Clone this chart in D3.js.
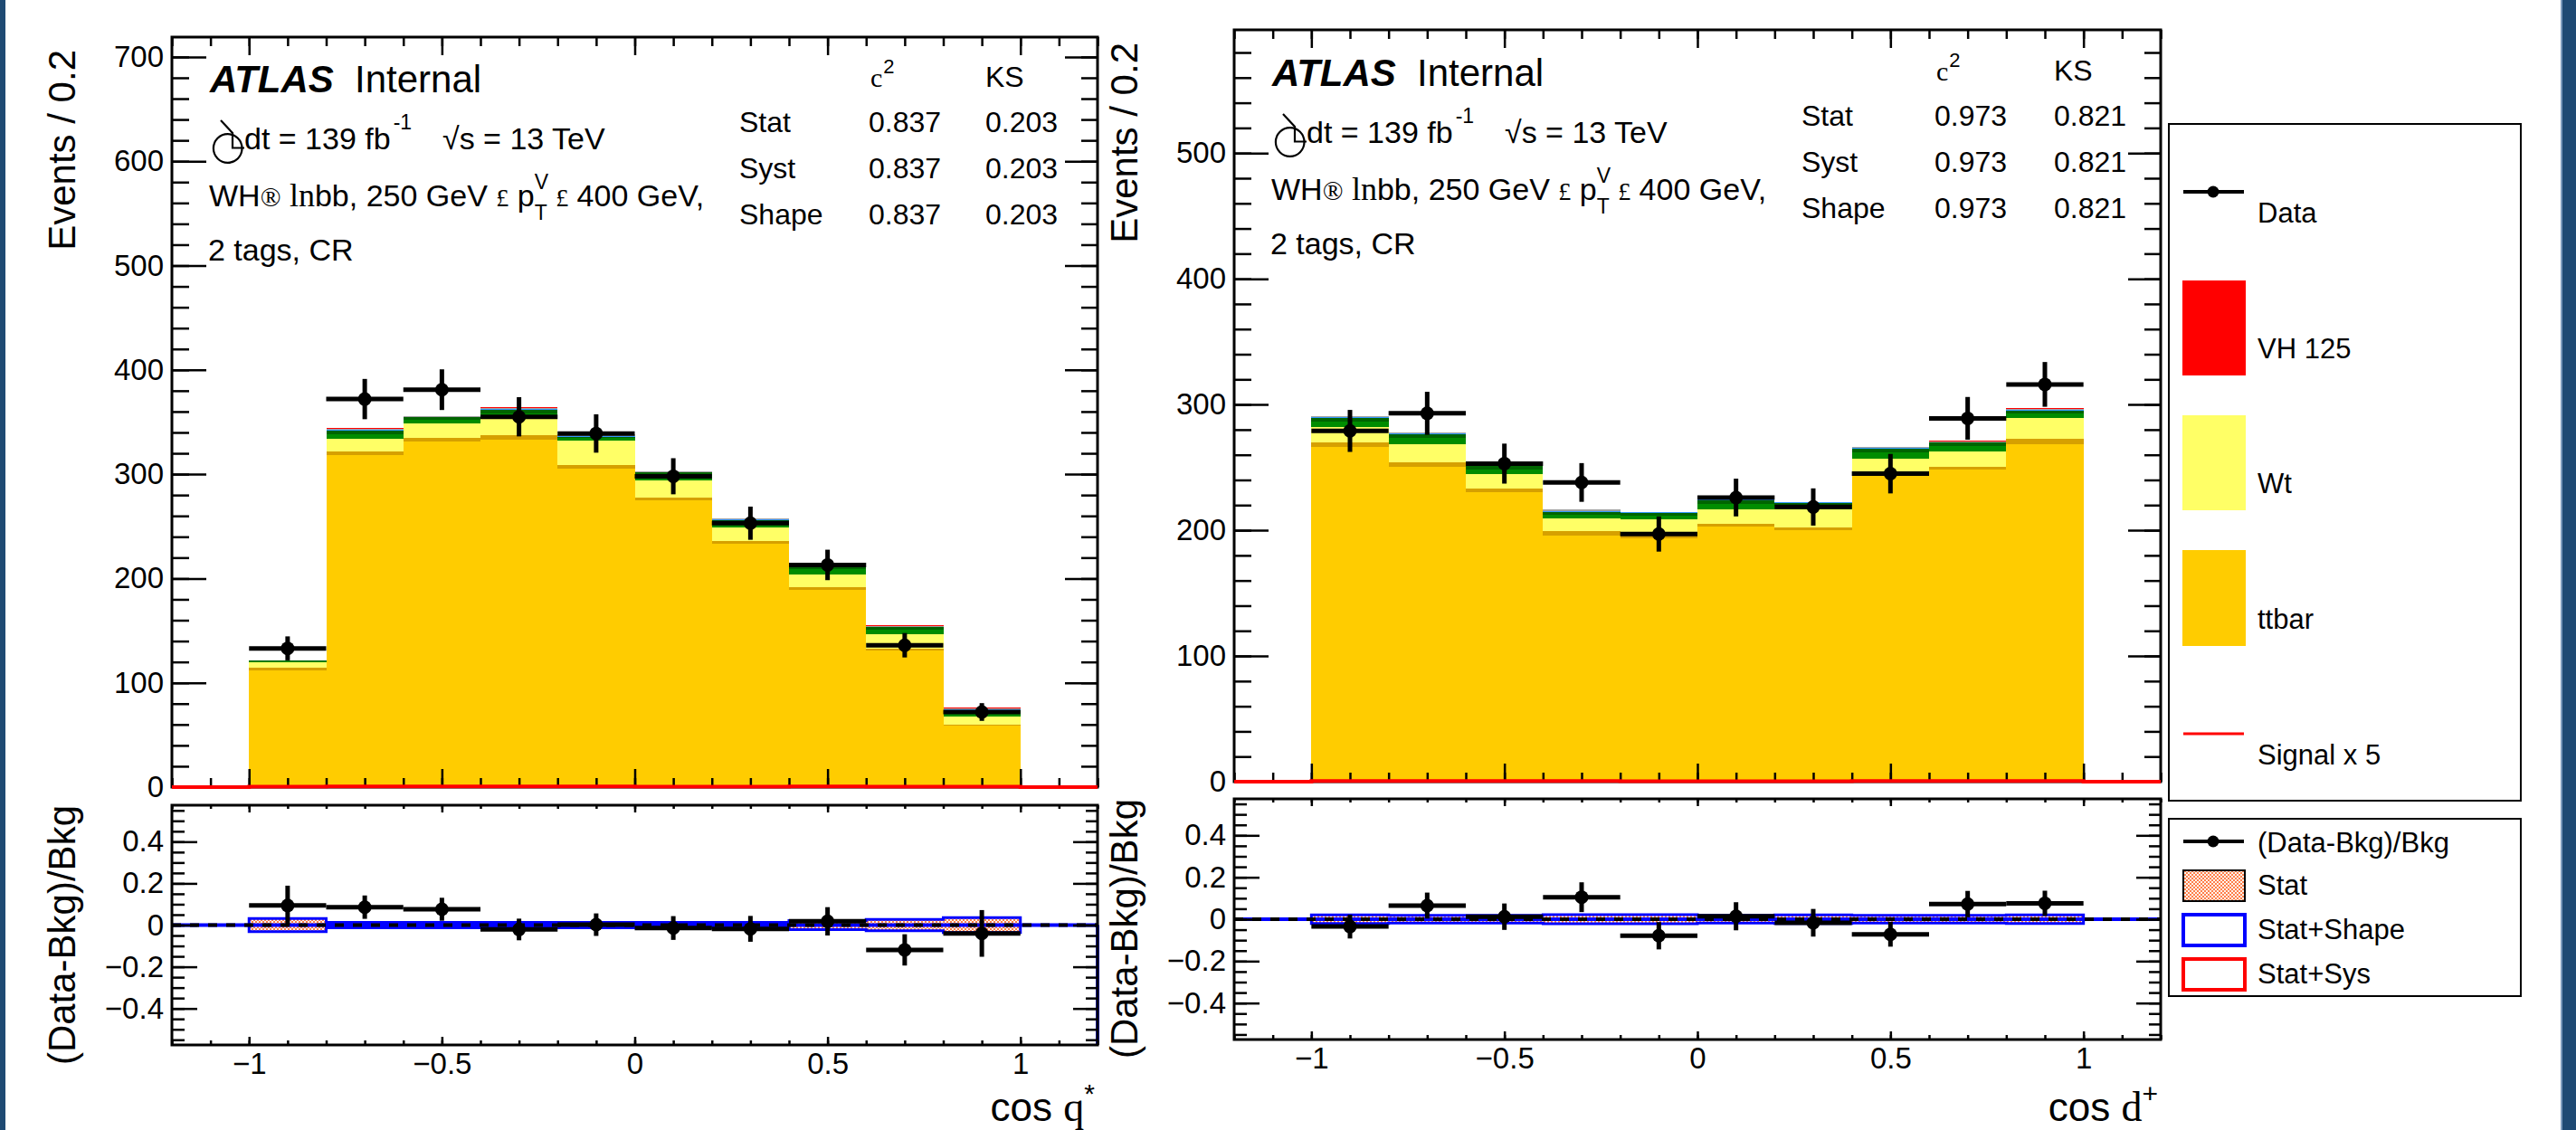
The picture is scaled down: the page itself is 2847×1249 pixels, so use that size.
<!DOCTYPE html>
<html><head><meta charset="utf-8">
<script src="https://cdnjs.cloudflare.com/ajax/libs/d3/7.8.5/d3.min.js"></script>
<style>
body{margin:0;background:#fff}
svg{display:block}
</style>
</head><body>
<svg id="c" width="2847" height="1249"></svg>
<script>
// ---------------- DATA ----------------
const binEdges   = [-1.0,-0.8,-0.6,-0.4,-0.2,0.0,0.2,0.4,0.6,0.8,1.0];
const binCenters = [-0.9,-0.7,-0.5,-0.3,-0.1,0.1,0.3,0.5,0.7,0.9];
const processes  = ["ttbar","stop","Wt","Wcl","Wbb","Zhf","VV","VH125"];

const mainTicksLeft  = [0,100,200,300,400,500,600,700];
const mainTicksRight = [0,100,200,300,400,500];
const ratioTicks     = [-0.4,-0.2,0,0.2,0.4];
const xTicks         = [-1,-0.5,0,0.5,1];

// left panel (cos theta*)
const L_ttbar = [112, 318, 331, 333, 305, 275, 233, 189, 131, 59];
const L_stop  = [2.5, 4, 4, 4, 3.5, 2.5, 3, 2.5, 2, 1];
const L_Wt    = [5, 12, 13.5, 17, 23.5, 16.5, 12.5, 12.5, 13.5, 7.5];
const L_Wcl   = [1.0, 4.5, 3.5, 4.5, 2.4, 4.5, 4.5, 5, 4, 4];
const L_Wbb   = [0.7, 3.2, 2.5, 3.2, 1.6, 3, 3.1, 3.4, 2.6, 2.5];
const L_Zhf   = [0.2, 0.8, 0.6, 0.8, 0.8, 0.5, 0.5, 0.8, 0.7, 1.0];
const L_VV    = [0.2, 1.1, 0.6, 1.1, 1.2, 0.7, 0.6, 1.3, 1.0, 0.6];
const L_VH    = [0.1, 0.4, 0.3, 0.4, 0.4, 0.3, 0.3, 0.4, 0.3, 0.3];
const L_sig5  = [0.4, 0.6, 0.6, 0.6, 0.6, 0.5, 0.5, 0.6, 0.5, 0.4];
const L_data    = [133, 372, 381, 355, 339, 298, 253, 213, 136, 72];
const L_dataErr = [11.5, 19.3, 19.5, 18.8, 18.4, 17.3, 15.9, 14.6, 11.7, 8.5];
const L_ratio    = [0.094, 0.086, 0.076, -0.021, 0.002, -0.014, -0.018, 0.018, -0.119, -0.04];
const L_ratioErr = [0.095, 0.056, 0.055, 0.052, 0.054, 0.057, 0.062, 0.068, 0.075, 0.112];
const L_band     = [0.032, 0.013, 0.013, 0.013, 0.013, 0.013, 0.013, 0.022, 0.027, 0.036];
const L_stats    = ["0.837","0.203"];

// right panel (cos delta+)
const R_ttbar = [266, 250.5, 230, 196, 193.3, 203, 200, 243, 248, 268.4];
const R_stop  = [3.5, 3.5, 3.3, 3.3, 2.9, 2.2, 2.3, 2.5, 2.5, 4.2];
const R_Wt    = [12.5, 14.5, 11.6, 10.3, 12.4, 11.5, 14.4, 11.6, 12.3, 16.4];
const R_Wcl   = [4.5, 4.8, 3.6, 3, 3.2, 4.2, 3, 4.7, 4, 3.8];
const R_Wbb   = [3, 3.2, 2.5, 2, 2.2, 2.8, 2, 3.1, 2.7, 2.5];
const R_Zhf   = [0.6, 0.5, 0.7, 0.8, 0.3, 0.5, 0.4, 0.5, 0.6, 0.7];
const R_VV    = [0.6, 0.5, 0.7, 0.9, 0.3, 0.5, 0.3, 0.6, 0.7, 0.7];
const R_VH    = [0.3, 0.2, 0.3, 0.3, 0.2, 0.2, 0.2, 0.2, 0.3, 0.3];
const R_sig5  = [0.5, 0.5, 0.5, 0.5, 0.4, 0.4, 0.4, 0.5, 0.5, 0.5];
const R_data    = [279, 293, 253, 238, 197, 226, 218.5, 245, 289, 316];
const R_dataErr = [16.7, 17.1, 15.9, 15.4, 14.0, 15.0, 14.8, 15.7, 17.0, 17.8];
const R_ratio    = [-0.035, 0.065, 0.012, 0.105, -0.079, 0.014, -0.017, -0.072, 0.072, 0.076];
const R_ratioErr = [0.057, 0.062, 0.063, 0.071, 0.065, 0.067, 0.066, 0.059, 0.063, 0.06];
const R_band     = [0.02, 0.018, 0.018, 0.022, 0.022, 0.018, 0.02, 0.018, 0.018, 0.02];
const R_stats    = ["0.973","0.821"];

const tableRows = ["Stat","Syst","Shape"];
const legendMain  = ["Data","VH 125","Wt","ttbar","Signal x 5"];
const legendRatio = ["(Data-Bkg)/Bkg","Stat","Stat+Shape","Stat+Sys"];

// ---------------- STYLE / LAYOUT ----------------
const SANS  = '"Liberation Sans", Arial, Helvetica, sans-serif';
const SERIF = '"Liberation Serif", "Times New Roman", serif';
const colors = {ttbar:"#ffcc00", stop:"#d6a000", Wt:"#ffff66", Wcl:"#008c00", Wbb:"#006400",
                Zhf:"#3399ff", VV:"#a0a0a0", VH125:"#ff0000"};

const panels = [
  {stack:{ttbar:L_ttbar,stop:L_stop,Wt:L_Wt,Wcl:L_Wcl,Wbb:L_Wbb,Zhf:L_Zhf,VV:L_VV,VH125:L_VH},
   sig:L_sig5, data:L_data, err:L_dataErr, ratio:L_ratio, ratioErr:L_ratioErr, band:L_band, stats:L_stats,
   yTicks:mainTicksLeft, sym:"q", symSup:"*",
   c:{x0:190,x1:1213,mainTop:41,mainBot:870,yMax:719,ratTop:890,ratBot:1155,ratLim:0.575,dx:0,dy:0,
      table:[817,960,1089], blueEdge:true}},
  {stack:{ttbar:R_ttbar,stop:R_stop,Wt:R_Wt,Wcl:R_Wcl,Wbb:R_Wbb,Zhf:R_Zhf,VV:R_VV,VH125:R_VH},
   sig:R_sig5, data:R_data, err:R_dataErr, ratio:R_ratio, ratioErr:R_ratioErr, band:R_band, stats:R_stats,
   yTicks:mainTicksRight, sym:"d", symSup:"+",
   c:{x0:1364,x1:2388,mainTop:33,mainBot:864,yMax:598,ratTop:883,ratBot:1149,ratLim:0.574,dx:1174,dy:-7,
      table:[1991,2138,2270], blueEdge:false}}
];

const svg = d3.select("#c");
const defs = svg.append("defs");
const pat = defs.append("pattern").attr("id","chk").attr("width",4).attr("height",4)
  .attr("patternUnits","userSpaceOnUse");
pat.append("rect").attr("width",4).attr("height",4).attr("fill","#fff4ec");
pat.append("rect").attr("width",2).attr("height",2).attr("fill","#ff7f4a");
pat.append("rect").attr("x",2).attr("y",2).attr("width",2).attr("height",2).attr("fill","#ff7f4a");

svg.append("rect").attr("width",2847).attr("height",1249).attr("fill","#fff");
// page edges
svg.append("rect").attr("x",0).attr("y",0).attr("width",6).attr("height",1249).attr("fill","#1f4a73");
svg.append("rect").attr("x",2830).attr("y",0).attr("width",17).attr("height",1249).attr("fill","#1f4a73");
svg.append("rect").attr("x",2830).attr("y",0).attr("width",2).attr("height",1249).attr("fill","#7d9cbd");

function styleAxis(sel, size){
  sel.select(".domain").remove();
  sel.selectAll("line").attr("stroke","#000").attr("stroke-width",2.5);
  sel.selectAll("text").attr("font-family",SANS).attr("font-size",size).attr("fill","#000");
}
function richText(g, x, y, segs){
  let cx = x;
  segs.forEach(s=>{
    const t = g.append("text").attr("x", cx + (s.dx||0)).attr("y", y + (s.dy||0))
      .attr("font-family", s.f||SANS).attr("font-size", s.s||34)
      .attr("font-weight", s.w||"normal").attr("font-style", s.it?"italic":"normal")
      .style("white-space","pre").text(s.t);
    const w = t.node().getComputedTextLength();
    if(!s.hold) cx += w + (s.dx||0);
  });
  return cx;
}

function drawPanel(P){
  const C = P.c;
  const g = svg.append("g");
  const x  = d3.scaleLinear().domain([-1.2,1.2]).range([C.x0,C.x1]);
  const y  = d3.scaleLinear().domain([0,C.yMax]).range([C.mainBot,C.mainTop]);
  const yr = d3.scaleLinear().domain([-C.ratLim,C.ratLim]).range([C.ratBot,C.ratTop]);

  // ---- stacked histogram
  const rows = binCenters.map((c,i)=>{const r={i}; processes.forEach(k=>r[k]=P.stack[k][i]); return r;});
  const series = d3.stack().keys(processes)(rows);
  g.append("g").selectAll("g").data(series).join("g").attr("fill",d=>colors[d.key])
    .selectAll("rect").data(d=>d).join("rect")
    .attr("shape-rendering","crispEdges")
    .attr("x",d=>x(binEdges[d.data.i]))
    .attr("width",d=>x(binEdges[d.data.i+1])-x(binEdges[d.data.i]))
    .attr("y",d=>y(d[1])).attr("height",d=>y(d[0])-y(d[1]));

  const sigPts = [[-1.2,0]].concat(binEdges.slice(0,-1).map((e,i)=>[e,P.sig[i]])).concat([[1,0],[1.2,0]]);

  // ---- main axes
  const minorY = d3.range(0, C.yMax+0.1, 20);
  const minorX = d3.range(-12,13).map(v=>v/10);
  const ax = (gen, tr, vals, size, fmt, fs)=>{
    const a = g.append("g").attr("transform",tr)
      .call(gen.tickValues(vals).tickSizeInner(-size).tickSizeOuter(0).tickPadding(9).tickFormat(fmt||(()=> "")));
    styleAxis(a, fs||33); return a;
  };
  ax(d3.axisLeft(y), `translate(${C.x0},0)`, minorY, 19);
  ax(d3.axisLeft(y), `translate(${C.x0},0)`, P.yTicks, 38, d3.format("d"));
  ax(d3.axisRight(y), `translate(${C.x1},0)`, minorY, 18);
  ax(d3.axisRight(y), `translate(${C.x1},0)`, P.yTicks, 36);
  ax(d3.axisBottom(x), `translate(0,${C.mainBot})`, minorX, 10);
  ax(d3.axisBottom(x), `translate(0,${C.mainBot})`, xTicks, 20);
  ax(d3.axisTop(x), `translate(0,${C.mainTop})`, minorX, 10);
  ax(d3.axisTop(x), `translate(0,${C.mainTop})`, xTicks, 20);
  g.append("rect").attr("x",C.x0).attr("y",C.mainTop).attr("width",C.x1-C.x0).attr("height",C.mainBot-C.mainTop)
    .attr("fill","none").attr("stroke","#000").attr("stroke-width",3);
  // signal x5 line over the bottom frame
  g.append("path").attr("d", d3.line().x(d=>x(d[0])).y(d=>y(d[1])).curve(d3.curveStepAfter)(sigPts))
    .attr("fill","none").attr("stroke","#ff0000").attr("stroke-width",4);

  // ---- data points (main)
  const dp = g.append("g");
  binCenters.forEach((c,i)=>{
    dp.append("line").attr("x1",x(binEdges[i])).attr("x2",x(binEdges[i+1]))
      .attr("y1",y(P.data[i])).attr("y2",y(P.data[i])).attr("stroke","#000").attr("stroke-width",5);
    dp.append("line").attr("x1",x(c)).attr("x2",x(c))
      .attr("y1",y(P.data[i]-P.err[i])).attr("y2",y(P.data[i]+P.err[i])).attr("stroke","#000").attr("stroke-width",5);
    dp.append("circle").attr("cx",x(c)).attr("cy",y(P.data[i])).attr("r",7.5).attr("fill","#000");
  });

  // ---- ratio panel
  const rg = g.append("g");
  binCenters.forEach((c,i)=>{
    rg.append("rect").attr("x",x(binEdges[i])).attr("width",x(binEdges[i+1])-x(binEdges[i]))
      .attr("y",yr(P.band[i])).attr("height",yr(-P.band[i])-yr(P.band[i])).attr("fill","url(#chk)");
  });
  const outline = sgn => [[-1.2,0],[-1,0]].concat(
      binEdges.slice(0,-1).flatMap((e,i)=>[[e,sgn*P.band[i]],[binEdges[i+1],sgn*P.band[i]]])).concat([[1,0],[1.2,0]]);
  const ol = d3.line().x(d=>x(d[0])).y(d=>yr(d[1]));
  rg.append("path").attr("d",ol(outline(1))).attr("fill","none").attr("stroke","#0000ff").attr("stroke-width",3);
  rg.append("path").attr("d",ol(outline(-1))).attr("fill","none").attr("stroke","#0000ff").attr("stroke-width",3);
  rg.append("line").attr("x1",C.x0).attr("x2",C.x1).attr("y1",yr(0)).attr("y2",yr(0))
    .attr("stroke","#0000ff").attr("stroke-width",4);
  if(C.blueEdge){
    rg.append("line").attr("x1",C.x1).attr("x2",C.x1).attr("y1",yr(0)).attr("y2",C.ratBot)
      .attr("stroke","#0000ff").attr("stroke-width",4);
  }
  rg.append("line").attr("x1",C.x0).attr("x2",C.x1).attr("y1",yr(0)).attr("y2",yr(0))
    .attr("stroke","#000").attr("stroke-width",4).attr("stroke-dasharray","10,10");

  const minorR = d3.range(-11,12).map(v=>v*0.05).filter(v=>Math.abs(v)<=C.ratLim);
  const rfmt = d=> d===0 ? "0" : d3.format(".1f")(d);
  ax(d3.axisLeft(yr), `translate(${C.x0},0)`, minorR, 14);
  ax(d3.axisLeft(yr), `translate(${C.x0},0)`, ratioTicks, 28, rfmt);
  ax(d3.axisRight(yr), `translate(${C.x1},0)`, minorR, 13);
  ax(d3.axisRight(yr), `translate(${C.x1},0)`, ratioTicks, 27);
  ax(d3.axisBottom(x), `translate(0,${C.ratBot})`, minorX, 5);
  ax(d3.axisBottom(x), `translate(0,${C.ratBot})`, xTicks, 9, d3.format("~g"));
  ax(d3.axisTop(x), `translate(0,${C.ratTop})`, minorX, 4);
  ax(d3.axisTop(x), `translate(0,${C.ratTop})`, xTicks, 8);
  g.append("rect").attr("x",C.x0).attr("y",C.ratTop).attr("width",C.x1-C.x0).attr("height",C.ratBot-C.ratTop)
    .attr("fill","none").attr("stroke","#000").attr("stroke-width",3);

  const rp = g.append("g");
  binCenters.forEach((c,i)=>{
    rp.append("line").attr("x1",x(binEdges[i])).attr("x2",x(binEdges[i+1]))
      .attr("y1",yr(P.ratio[i])).attr("y2",yr(P.ratio[i])).attr("stroke","#000").attr("stroke-width",5);
    rp.append("line").attr("x1",x(c)).attr("x2",x(c))
      .attr("y1",yr(P.ratio[i]-P.ratioErr[i])).attr("y2",yr(P.ratio[i]+P.ratioErr[i])).attr("stroke","#000").attr("stroke-width",5);
    rp.append("circle").attr("cx",x(c)).attr("cy",yr(P.ratio[i])).attr("r",7.5).attr("fill","#000");
  });

  // ---- axis titles
  g.append("text").attr("font-family",SANS).attr("font-size",42).attr("text-anchor","end")
    .attr("transform",`translate(${C.x0-107},${C.mainTop+14}) rotate(-90)`).text("Events / 0.2");
  g.append("text").attr("font-family",SANS).attr("font-size",42).attr("text-anchor","end")
    .attr("transform",`translate(${C.x0-107},${C.ratTop}) rotate(-90)`).text("(Data-Bkg)/Bkg");
  const xtitle = g.append("text").attr("x",C.x1-3).attr("y",1239).attr("text-anchor","end")
    .style("white-space","pre");
  xtitle.append("tspan").attr("font-family",SANS).attr("font-size",44).text("cos ");
  xtitle.append("tspan").attr("font-family",SERIF).attr("font-size",46).text(P.sym);
  xtitle.append("tspan").attr("font-family",SANS).attr("font-size",30).attr("dy",-20).text(P.symSup);

  // ---- annotation text
  const dx = C.dx, dy = C.dy;
  const tg = g.append("g");
  richText(tg, 232+dx, 102+dy, [{t:"ATLAS", s:42, w:"bold", it:true}]);
  richText(tg, 392+dx, 102+dy, [{t:"Internal", s:42}]);
  tg.append("circle").attr("cx",251.7+dx).attr("cy",164+dy).attr("r",15.8)
    .attr("fill","none").attr("stroke","#000").attr("stroke-width",2.2);
  tg.append("path").attr("d",`M${244+dx},${133+dy} L${257+dx},${147+dy} L${257+dx},${163.5+dy} L${270+dx},${163.5+dy}`)
    .attr("fill","none").attr("stroke","#000").attr("stroke-width",2.2);
  richText(tg, 270+dx, 165+dy, [{t:"dt = 139 fb", s:34},{t:"-1", s:23, dy:-22, dx:3}]);
  const sq = richText(tg, 489+dx, 165+dy, [{t:"\u221As", s:34}]);
  richText(tg, sq, 165+dy, [{t:" = 13 TeV", s:34}]);
  richText(tg, 231+dx, 228+dy, [
    {t:"WH", s:34},{t:"\u00ae", f:SERIF, s:30},{t:" ", s:34},{t:"ln", f:SERIF, s:36},
    {t:"bb, 250 GeV ", s:34},{t:"\u00a3", f:SERIF, s:28},{t:" p", s:34},
    {t:"V", s:23, dy:-19, hold:true},{t:"T", s:23, dy:15},
    {t:" ", s:34},{t:"\u00a3", f:SERIF, s:28},{t:" 400 GeV,", s:34}]);
  richText(tg, 230+dx, 288+dy, [{t:"2 tags, CR", s:34}]);

  const T = C.table;
  richText(tg, T[1]+2, 96+dy, [{t:"c", f:SERIF, s:30},{t:"2", s:22, dy:-15, dx:1}]);
  richText(tg, T[2], 96+dy, [{t:"KS", s:32}]);
  tableRows.forEach((r,k)=>{
    const yy = 146 + 51*k + dy;
    richText(tg, T[0], yy, [{t:r, s:32}]);
    richText(tg, T[1], yy, [{t:P.stats[0], s:32}]);
    richText(tg, T[2], yy, [{t:P.stats[1], s:32}]);
  });
}
panels.forEach(drawPanel);

// ---------------- LEGENDS ----------------
const lg = svg.append("g");
lg.append("rect").attr("x",2397).attr("y",137).attr("width",389).attr("height",748)
  .attr("fill","#fff").attr("stroke","#000").attr("stroke-width",2);
lg.append("rect").attr("x",2397).attr("y",905).attr("width",389).attr("height",196)
  .attr("fill","#fff").attr("stroke","#000").attr("stroke-width",2);
const lt = (t,y)=> lg.append("text").attr("x",2495).attr("y",y).attr("font-family",SANS).attr("font-size",31).text(t);
lg.append("line").attr("x1",2413).attr("x2",2480).attr("y1",212).attr("y2",212).attr("stroke","#000").attr("stroke-width",4);
lg.append("circle").attr("cx",2446).attr("cy",212).attr("r",6.5).attr("fill","#000");
lt(legendMain[0],246);
lg.append("rect").attr("x",2412).attr("y",310).attr("width",70).attr("height",105).attr("fill",colors.VH125);
lt(legendMain[1],396);
lg.append("rect").attr("x",2412).attr("y",459).attr("width",70).attr("height",105).attr("fill",colors.Wt);
lt(legendMain[2],545);
lg.append("rect").attr("x",2412).attr("y",608).attr("width",70).attr("height",106).attr("fill",colors.ttbar);
lt(legendMain[3],695);
lg.append("line").attr("x1",2413).attr("x2",2480).attr("y1",811).attr("y2",811).attr("stroke","#ff0000").attr("stroke-width",3);
lt(legendMain[4],845);
lg.append("line").attr("x1",2413).attr("x2",2480).attr("y1",930).attr("y2",930).attr("stroke","#000").attr("stroke-width",4);
lg.append("circle").attr("cx",2446).attr("cy",930).attr("r",6.5).attr("fill","#000");
lt(legendRatio[0],942);
lg.append("rect").attr("x",2413).attr("y",962).attr("width",68).attr("height",34).attr("fill","url(#chk)")
  .attr("stroke","#000").attr("stroke-width",2);
lt(legendRatio[1],989);
lg.append("rect").attr("x",2413).attr("y",1011).attr("width",68).attr("height",34).attr("fill","none")
  .attr("stroke","#0000ff").attr("stroke-width",4);
lt(legendRatio[2],1038);
lg.append("rect").attr("x",2413).attr("y",1060).attr("width",68).attr("height",34).attr("fill","none")
  .attr("stroke","#ff0000").attr("stroke-width",4);
lt(legendRatio[3],1087);
</script>
</body></html>
